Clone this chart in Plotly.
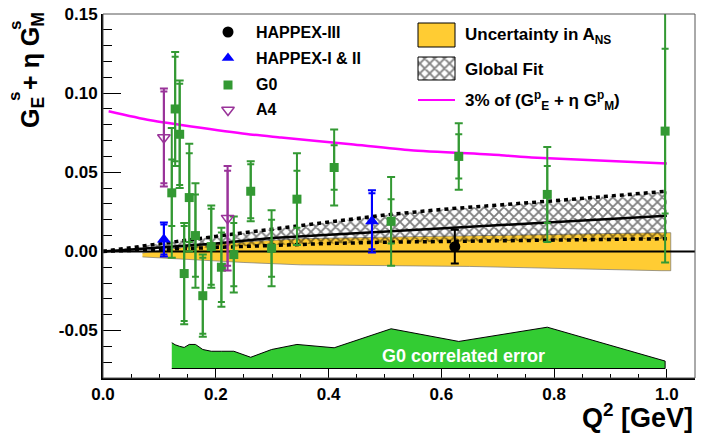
import plotly.graph_objects as go

# ---------------- data ----------------
# G0 forward-angle points
g0_q2 = [0.122, 0.128, 0.136, 0.144, 0.153, 0.164, 0.177, 0.192, 0.210,
         0.232, 0.262, 0.299, 0.344, 0.410, 0.511, 0.631, 0.788, 0.997]
g0_val = [0.037, 0.090, 0.074, -0.014, 0.034, 0.010, -0.028, 0.003, -0.010,
          -0.002, 0.038, 0.002, 0.033, 0.053, 0.019, 0.060, 0.036, 0.076]
g0_stat = [0.021, 0.033, 0.032, 0.030, 0.028, 0.026, 0.024, 0.024, 0.022,
           0.020, 0.017, 0.018, 0.018, 0.014, 0.014, 0.014, 0.018, 0.052]
g0_tot = [0.041, 0.036, 0.034, 0.032, 0.034, 0.033, 0.026, 0.026, 0.025,
          0.024, 0.019, 0.024, 0.029, 0.024, 0.028, 0.021, 0.030, 0.083]
# G0 correlated error (height above the band baseline)
g0_corr = [0.0163, 0.0150, 0.0140, 0.0133, 0.0152, 0.0152, 0.0120, 0.0109, 0.0109,
           0.0109, 0.0071, 0.0120, 0.0152, 0.0131, 0.0251, 0.0171, 0.0261, 0.0047]
corr_base = -0.074

# HAPPEX-III
h3_q2 = [0.624]
h3_val = [0.003]
h3_err = [0.0107]

# HAPPEX-I & II
h12_q2 = [0.108, 0.477]
h12_val = [0.0075, 0.019]
h12_stat = [0.0095, 0.0177]
h12_tot = [0.0107, 0.0197]

# A4
a4_q2 = [0.108, 0.221]
a4_val = [0.072, 0.021]
a4_stat = [0.029, 0.030]
a4_tot = [0.031, 0.033]

# Uncertainty in A_NS band
band_q2 = [0.07, 0.15, 0.25, 0.35, 0.50, 0.65, 0.80, 0.99, 1.007]
band_hi = [-0.001, 0.003, 0.006, 0.008, 0.009, 0.010, 0.011, 0.0118, 0.0118]
band_lo = [-0.0035, -0.005, -0.007, -0.0085, -0.009, -0.0095, -0.0105, -0.0122, -0.0122]

# Global fit
fit_q2 = [0.0, 0.1, 0.2, 0.3, 0.4, 0.5, 0.6, 0.7, 0.8, 0.9, 1.0]
fit_mid = [0.0, 0.0025, 0.005, 0.0085, 0.0105, 0.0125, 0.0145, 0.0165, 0.0185, 0.0205, 0.0225]
fit_hi = [0.0, 0.005, 0.0095, 0.014, 0.0185, 0.023, 0.0265, 0.029, 0.032, 0.035, 0.038]
fit_lo = [0.0, 0.0012, 0.0025, 0.004, 0.005, 0.0058, 0.0062, 0.0065, 0.007, 0.0075, 0.008]

# 3% of (GpE + eta GpM)
mag_q2 = [0.01, 0.084, 0.261, 0.316, 0.44, 0.546, 0.706, 0.76, 1.0]
mag_val = [0.0886, 0.0829, 0.0739, 0.072, 0.0677, 0.0639, 0.0608, 0.0593, 0.0555]

# axes
x_range = [0.0, 1.05]
y_range = [-0.08, 0.15]
y_tick_vals = [-0.05, 0.0, 0.05, 0.10, 0.15]
y_tick_text = ["-0.05", "0.00", "0.05", "0.10", "0.15"]

# ---------------- styling ----------------
FONT = "Liberation Sans, Arial, Helvetica, sans-serif"
G0C = "#339933"
A4C = "#993399"
BLUE = "#0000ff"
YEL = "#ffcc33"
CORR = "#33cc33"
MAG = "#ff00ff"

# plot-area pixel box (used to place legend / titles)
PL, PR, PT, PB = 103, 695, 14, 378


def px(xp):
    return (xp - PL) / (PR - PL)


def py(yp):
    return (PB - yp) / (PB - PT)


fig = go.Figure()

# yellow band
fig.add_trace(go.Scatter(
    x=band_q2 + band_q2[::-1], y=band_hi + band_lo[::-1],
    fill="toself", fillcolor=YEL, mode="lines",
    line=dict(color="rgba(120,120,120,0.7)", width=1),
    hoverinfo="skip", showlegend=False))

# hatched global fit
fig.add_trace(go.Scatter(
    x=fit_q2 + fit_q2[::-1], y=fit_hi + fit_lo[::-1],
    fill="toself", fillcolor="rgba(0,0,0,0)", mode="lines",
    fillpattern=dict(shape="x", fgcolor="black", bgcolor="rgba(0,0,0,0)",
                     size=7, solidity=0.45),
    line=dict(width=0, color="rgba(0,0,0,0)"),
    hoverinfo="skip", showlegend=False))

# zero line
fig.add_trace(go.Scatter(x=x_range, y=[0, 0], mode="lines",
                         line=dict(color="black", width=2),
                         hoverinfo="skip", showlegend=False))

# fit edges and central line
for arr in (fit_hi, fit_lo):
    fig.add_trace(go.Scatter(x=fit_q2, y=arr, mode="lines",
                             line=dict(color="black", width=3.5, dash="4px,4px"),
                             hoverinfo="skip", showlegend=False))
fig.add_trace(go.Scatter(x=fit_q2, y=fit_mid, mode="lines",
                         line=dict(color="black", width=2.5),
                         hoverinfo="skip", showlegend=False))

# magenta curve
fig.add_trace(go.Scatter(x=mag_q2, y=mag_val, mode="lines",
                         line=dict(color=MAG, width=2.5, shape="spline", smoothing=0.6),
                         hoverinfo="skip", showlegend=False))

# G0 correlated error
fig.add_trace(go.Scatter(
    x=g0_q2 + [g0_q2[-1], g0_q2[0]],
    y=[corr_base + c for c in g0_corr] + [corr_base, corr_base],
    fill="toself", fillcolor=CORR, mode="lines",
    line=dict(color="black", width=1),
    hoverinfo="skip", showlegend=False))


def add_points(q2, val, stat, tot, color, symbol, size, line_w=0):
    if stat is not None:
        fig.add_trace(go.Scatter(
            x=q2, y=val, mode="markers",
            marker=dict(size=2, color="rgba(0,0,0,0)"),
            error_y=dict(type="data", array=stat, color=color, thickness=2, width=3.5),
            hoverinfo="skip", showlegend=False))
    fig.add_trace(go.Scatter(
        x=q2, y=val, mode="markers",
        marker=dict(size=size, color=color, symbol=symbol,
                    line=dict(width=line_w, color=color)),
        error_y=dict(type="data", array=tot, color=color, thickness=2, width=4),
        hoverinfo="skip", showlegend=False))


add_points(g0_q2, g0_val, g0_stat, g0_tot, G0C, "square", 9)
add_points(a4_q2, a4_val, a4_stat, a4_tot, A4C, "triangle-down-open", 11, 1.5)
add_points(h12_q2, h12_val, h12_stat, h12_tot, BLUE, "triangle-up", 12)
add_points(h3_q2, h3_val, None, h3_err, "black", "circle", 11)

# ---------------- legend (overlay axes in pixel units) ----------------
leg_markers = [("circle", "black", 0), ("triangle-up", BLUE, 0),
               ("square", G0C, 0), ("triangle-down-open", A4C, 1.5)]
leg_rows = [32, 58, 85, 110]
for (sym, col, lw), yy in zip(leg_markers, leg_rows):
    fig.add_trace(go.Scatter(
        x=[228], y=[yy], xaxis="x2", yaxis="y2", mode="markers",
        marker=dict(symbol=sym, color=col, size=11 if sym != "square" else 9,
                    line=dict(width=lw, color=col)),
        hoverinfo="skip", showlegend=False))

# hatch legend box
fig.add_trace(go.Scatter(
    x=[418, 455, 455, 418, 418], y=[57, 57, 80, 80, 57], xaxis="x2", yaxis="y2",
    fill="toself", fillcolor="rgba(0,0,0,0)", mode="lines",
    fillpattern=dict(shape="x", fgcolor="black", bgcolor="white", size=7, solidity=0.45),
    line=dict(color="black", width=1), hoverinfo="skip", showlegend=False))

shapes = [
    # frame (thin top/right)
    dict(type="rect", xref="paper", yref="paper", x0=0, x1=1, y0=0, y1=1,
         line=dict(color="#555555", width=1), layer="above"),
    # yellow legend box
    dict(type="rect", xref="paper", yref="paper", x0=px(418), x1=px(455), y0=py(23), y1=py(47),
         fillcolor=YEL, line=dict(color="black", width=1), layer="above"),
    # magenta legend line
    dict(type="line", xref="paper", yref="paper", x0=px(418), x1=px(455), y0=py(100), y1=py(100),
         line=dict(color=MAG, width=2), layer="above"),
]

lfont = dict(family=FONT, size=16, color="black", weight="bold")
annotations = []
for txt, yy in zip(["HAPPEX-III", "HAPPEX-I &amp; II", "G0", "A4"], leg_rows):
    annotations.append(dict(x=px(254), y=py(yy), xref="paper", yref="paper", text=txt,
                            xanchor="left", yanchor="middle", showarrow=False, font=lfont))
rfont = dict(family=FONT, size=17, color="black", weight="bold")
tfont = dict(family=FONT, size=25, color="black", weight="bold")
sfont = dict(family=FONT, size=17, color="black", weight="bold")
annotations += [
    dict(x=px(463), y=py(36), xref="paper", yref="paper", text="Uncertainty in A<sub>NS</sub>",
         xanchor="left", yanchor="middle", showarrow=False, font=rfont),
    dict(x=px(463), y=py(69), xref="paper", yref="paper", text="Global Fit",
         xanchor="left", yanchor="middle", showarrow=False, font=rfont),
    dict(x=px(463), y=py(100), xref="paper", yref="paper",
         text="3% of (G<sup>p</sup><sub>E</sub> + η G<sup>p</sup><sub>M</sub>)",
         xanchor="left", yanchor="middle", showarrow=False, font=rfont),
    dict(x=0.64, y=-0.066, xref="x", yref="y", text="G0 correlated error",
         xanchor="center", yanchor="middle", showarrow=False,
         font=dict(family=FONT, size=18, color="white", weight="bold")),
    dict(x=px(695), y=py(416), xref="paper", yref="paper", text="Q<sup>2</sup> [GeV]",
         xanchor="right", yanchor="middle", showarrow=False,
         font=dict(family=FONT, size=27, color="black", weight="bold")),
    # y title: G_E + eta G_M with stacked superscript s
    dict(x=px(32), y=py(70), xref="paper", yref="paper",
         text="G<sub>E</sub> + η G<sub>M</sub>",
         textangle=-90, xanchor="center", yanchor="middle", showarrow=False, font=tfont),
    dict(x=px(15), y=py(97), xref="paper", yref="paper", text="s",
         textangle=-90, xanchor="center", yanchor="middle", showarrow=False, font=sfont),
    dict(x=px(15), y=py(26), xref="paper", yref="paper", text="s",
         textangle=-90, xanchor="center", yanchor="middle", showarrow=False, font=sfont),
]

tickfont = dict(family=FONT, size=17, color="black", weight="bold")
fig.update_layout(
    width=716, height=434,
    margin=dict(l=PL, r=716 - PR, t=PT, b=434 - PB, pad=0, autoexpand=False),
    paper_bgcolor="white", plot_bgcolor="white",
    showlegend=False,
    xaxis=dict(range=x_range, showgrid=False, zeroline=False, automargin=False,
               showline=True, linecolor="black", linewidth=2, mirror=False,
               ticks="inside", ticklen=9, tickwidth=1, tickcolor="black",
               dtick=0.2, tick0=0, tickformat=".1f", tickfont=tickfont,
               minor=dict(ticks="inside", ticklen=4.5, dtick=0.05, tickcolor="black", tickwidth=1)),
    yaxis=dict(range=y_range, showgrid=False, zeroline=False, automargin=False,
               showline=True, linecolor="black", linewidth=2, mirror=False,
               ticks="inside", ticklen=18, tickwidth=1, tickcolor="black",
               tickmode="array", tickvals=y_tick_vals, ticktext=y_tick_text,
               tickfont=tickfont,
               minor=dict(ticks="inside", ticklen=9, dtick=0.01, tickcolor="black", tickwidth=1)),
    xaxis2=dict(range=[PL, PR], overlaying="x", anchor="y2", visible=False),
    yaxis2=dict(range=[PB, PT], overlaying="y", anchor="x2", visible=False),
    shapes=shapes, annotations=annotations,
)

fig.write_html("out.html", config={"displayModeBar": False},
               post_script="document.body.style.margin='0px';")
